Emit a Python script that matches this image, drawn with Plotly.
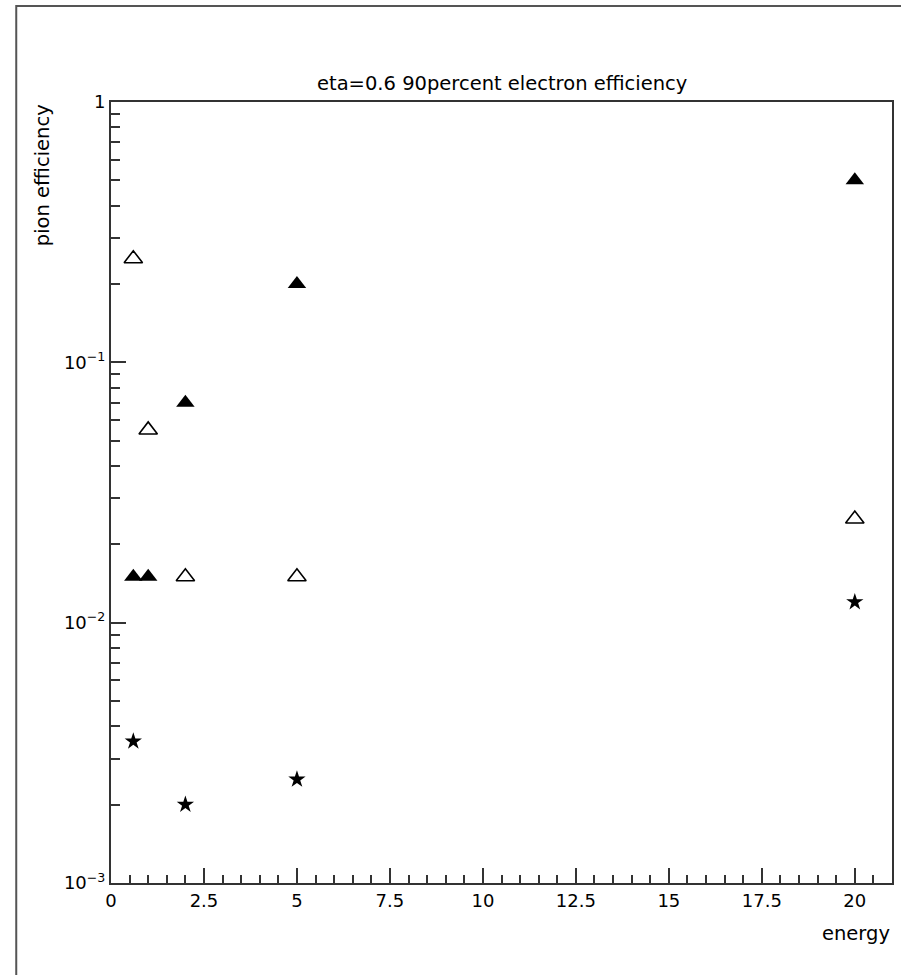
import plotly.graph_objects as go

# Data
open_x = [0.6, 1.0, 2.0, 5.0, 20.0]
open_y = [0.25, 0.055, 0.015, 0.015, 0.025]

filled_x = [0.6, 1.0, 2.0, 5.0, 20.0]
filled_y = [0.015, 0.015, 0.07, 0.2, 0.5]

star_x = [0.6, 2.0, 5.0, 20.0]
star_y = [0.0035, 0.002, 0.0025, 0.012]

y_tickvals = [1e-3, 1e-2, 1e-1, 1]
y_ticktext = ["10<sup>\u22123</sup>", "10<sup>\u22122</sup>", "10<sup>\u22121</sup>", "1"]
y_minor = [m * 10.0 ** k for k in (-3, -2, -1) for m in range(2, 10)]

FONT = "DejaVu Sans"
W, H = 901, 975
ML, MR, MT, MB = 111, 7, 102, 92
PW, PH = W - ML - MR, H - MT - MB


def px_to_paper_x(px):
    return (px - ML) / PW


def px_to_paper_y(py):
    return (H - MB - py) / PH


fig = go.Figure()
fig.add_trace(go.Scatter(
    x=filled_x, y=filled_y, mode="markers",
    marker=dict(symbol="triangle-up", size=16, color="black",
                line=dict(width=0)),
    showlegend=False))
fig.add_trace(go.Scatter(
    x=open_x, y=open_y, mode="markers",
    marker=dict(symbol="triangle-up-open", size=16, color="black",
                line=dict(width=1.6, color="black")),
    showlegend=False))
fig.add_trace(go.Scatter(
    x=star_x, y=star_y, mode="markers",
    marker=dict(symbol="star", size=13, color="black",
                line=dict(width=0)),
    showlegend=False))

axis_common = dict(
    showline=True, linecolor="#333333", linewidth=2, mirror=True,
    ticks="inside", tickcolor="#333333", tickwidth=1.5,
    showgrid=False, zeroline=False,
    tickfont=dict(family=FONT, size=18, color="black"),
)

fig.update_xaxes(
    range=[0, 21], tick0=0, dtick=2.5, ticklen=15,
    minor=dict(dtick=0.5, ticks="inside", ticklen=8,
               tickcolor="#333333", tickwidth=1.5, showgrid=False),
    **axis_common)
fig.update_yaxes(
    type="log", range=[-3, 0], tickmode="array",
    tickvals=y_tickvals, ticktext=y_ticktext, ticklen=15,
    minor=dict(tickmode="array", tickvals=y_minor, ticks="inside",
               ticklen=9, tickcolor="#333333", tickwidth=1.5,
               showgrid=False),
    **axis_common)

fig.update_layout(
    width=W, height=H,
    margin=dict(l=ML, r=MR, t=MT, b=MB),
    paper_bgcolor="white", plot_bgcolor="white",
    font=dict(family=FONT, color="black"),
    annotations=[
        dict(text="eta=0.6 90percent electron efficiency",
             x=0.5, y=px_to_paper_y(83), xref="paper", yref="paper",
             xanchor="center", yanchor="middle", showarrow=False,
             font=dict(family=FONT, size=19.5, color="black")),
        dict(text="pion efficiency",
             x=px_to_paper_x(42), y=1, xref="paper", yref="paper",
             xanchor="center", yanchor="top", textangle=-90,
             showarrow=False,
             font=dict(family=FONT, size=19.5, color="black")),
        dict(text="energy",
             x=1, y=px_to_paper_y(933), xref="paper", yref="paper",
             xanchor="right", yanchor="middle", showarrow=False,
             font=dict(family=FONT, size=19.5, color="black")),
    ],
    shapes=[
        dict(type="rect", xref="paper", yref="paper",
             x0=px_to_paper_x(16), y0=-1, x1=2, y1=px_to_paper_y(6),
             line=dict(color="#555555", width=2), fillcolor="rgba(0,0,0,0)",
             layer="below"),
    ],
)

fig.write_html(
    "out.html",
    config={"displayModeBar": False},
    post_script="document.body.style.margin='0';document.body.style.overflow='hidden';",
)
